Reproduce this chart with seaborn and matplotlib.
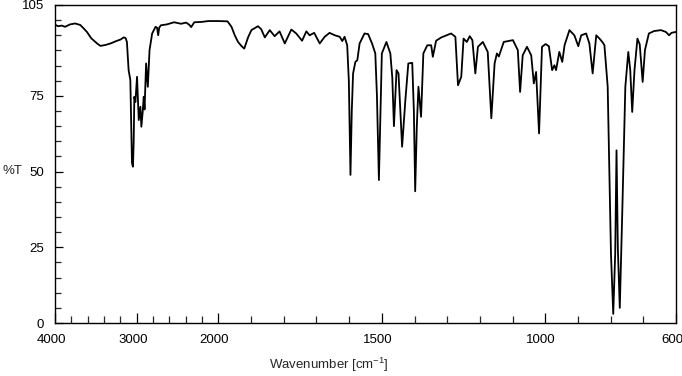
import numpy as np
import pandas as pd
import matplotlib
matplotlib.use("Agg")
import matplotlib.pyplot as plt
import matplotlib.transforms as mtransforms
import seaborn as sns

# IR spectrum
wavenumber = [
    4000, 3963, 3917, 3877, 3815, 3753, 3691, 3654, 3609, 3556, 3485, 3444,
    3383, 3321, 3259, 3198, 3160, 3136, 3120, 3099, 3078, 3058, 3046, 3037,
    3029, 3016, 2996, 2975, 2955, 2943, 2926, 2914, 2904, 2885, 2864, 2843,
    2811, 2769, 2751, 2737, 2725, 2704, 2630, 2543, 2457, 2395, 2358, 2333,
    2296, 2210, 2123, 2000, 1972, 1960, 1950, 1940, 1930, 1921, 1909, 1899,
    1879, 1869, 1858, 1843, 1828, 1813, 1797, 1777, 1762, 1744, 1731, 1721,
    1707, 1690, 1675, 1660, 1644, 1629, 1621, 1614, 1606, 1601, 1596, 1592,
    1588, 1581, 1575, 1568, 1553, 1542, 1530, 1520, 1515, 1509, 1504, 1500,
    1486, 1474, 1468, 1463, 1455, 1449, 1438, 1428, 1419, 1407, 1402, 1398,
    1393, 1388, 1380, 1373, 1361, 1349, 1344, 1334, 1318, 1288, 1275, 1267,
    1257, 1250, 1240, 1231, 1223, 1214, 1206, 1191, 1176, 1165, 1155, 1148,
    1142, 1127, 1099, 1084, 1077, 1069, 1056, 1043, 1035, 1028, 1019, 1010,
    999, 989, 979, 972, 967, 957, 948, 941, 926, 911, 899, 890,
    875, 865, 855, 844, 834, 824, 819, 809, 799, 792, 786, 782,
    778, 772, 765, 755, 746, 740, 734, 727, 718, 711, 702, 695,
    683, 667, 646, 631, 621, 614, 601,
]
transmittance = [
    98.5, 98.0, 98.2, 97.8, 98.6, 98.9, 98.4, 97.4, 96.1, 94.0, 92.3, 91.5,
    91.8, 92.3, 93.0, 93.6, 94.3, 94.1, 92.8, 83.5, 80.2, 52.8, 51.6, 60.0,
    74.7, 73.0, 81.3, 67.0, 71.4, 64.8, 70.0, 74.7, 70.5, 85.7, 78.0, 90.1,
    95.6, 97.8, 97.5, 95.0, 97.5, 98.3, 98.6, 99.3, 98.8, 99.2, 98.5, 97.7,
    99.3, 99.4, 99.7, 99.7, 99.6, 97.8, 95.0, 92.8, 91.5, 90.6, 94.4, 96.7,
    98.0, 97.0, 94.3, 96.7, 94.7, 96.3, 92.3, 96.9, 95.6, 93.2, 96.3, 95.0,
    95.8, 92.3, 94.5, 95.8, 95.0, 94.5, 93.1, 94.5, 91.7, 80.0, 48.9, 70.0,
    82.4, 86.2, 86.8, 92.3, 95.6, 95.4, 92.3, 89.0, 75.0, 47.2, 70.0, 89.0,
    92.8, 89.0, 81.0, 65.0, 83.5, 82.4, 58.2, 73.6, 85.7, 85.9, 70.0, 43.5,
    65.0, 78.0, 68.1, 89.0, 91.7, 91.7, 87.9, 93.2, 94.3, 95.6, 94.5, 78.5,
    81.3, 93.9, 92.8, 94.7, 93.4, 82.4, 91.2, 92.8, 89.5, 67.6, 85.7, 89.0,
    88.0, 92.8, 93.4, 90.1, 76.3, 88.4, 91.2, 88.4, 79.1, 82.9, 62.6, 91.2,
    92.1, 91.4, 83.5, 85.1, 83.5, 89.5, 86.2, 91.7, 96.7, 95.0, 91.4, 95.0,
    95.6, 92.3, 82.4, 95.0, 93.9, 92.6, 91.7, 78.0, 23.0, 3.0, 23.0, 57.0,
    25.0, 5.0, 34.0, 78.0, 89.5, 83.5, 69.7, 83.5, 93.9, 92.0, 79.6, 90.1,
    95.6, 96.4, 96.7, 96.1, 95.0, 95.8, 96.1,
]

major_x = [4000, 3000, 2000, 1500, 1000, 600]
minor_x = [3800, 3600, 3400, 3200, 2800, 2600, 2400, 2200,
           1900, 1800, 1700, 1600, 1400, 1300, 1200, 1100,
           900, 800, 700]
major_y = [0, 25, 50, 75, 105]
minor_y = [5, 10, 15, 20, 30, 35, 40, 45, 55, 60, 65, 70, 80, 85, 90, 95, 100]

df = pd.DataFrame({"wn": wavenumber, "T": transmittance})

sns.set_style("ticks")
plt.rcParams["font.family"] = ["Liberation Sans", "DejaVu Sans"]
plt.rcParams["mathtext.fontset"] = "custom"
plt.rcParams["mathtext.rm"] = "Liberation Sans"
plt.rcParams["mathtext.it"] = "Liberation Sans:italic"
plt.rcParams["mathtext.bf"] = "Liberation Sans:bold"


# above 2000 cm-1 the axis is compressed 4x
def fwd(x):
    x = np.asarray(x, dtype=float)
    return np.where(x <= 2000, x - 600, 1400 + (x - 2000) / 4.0)


def inv(u):
    u = np.asarray(u, dtype=float)
    return np.where(u <= 1400, u + 600, 2000 + (u - 1400) * 4.0)


fig = plt.figure(figsize=(6.82, 3.76), dpi=100)
ax = fig.add_axes([55 / 682, 53 / 376, 621 / 682, 318 / 376])

sns.lineplot(data=df, x="wn", y="T", color="black", linewidth=1.3,
             sort=False, estimator=None, ax=ax)

ax.set_xscale("function", functions=(fwd, inv))
ax.set_xlim(4000, 600)
ax.set_ylim(0, 105)

ax.set_xticks(major_x)
ax.set_xticklabels([str(v) for v in major_x])
ax.set_xticks(minor_x, minor=True)
ax.set_yticks(major_y)
ax.set_yticklabels([str(v) for v in major_y])
ax.set_yticks(minor_y, minor=True)

ax.tick_params(axis="x", which="major", direction="in", length=7.5, width=0.9,
               pad=8, labelsize=9.5, colors="black")
ax.tick_params(axis="x", which="minor", direction="in", length=5, width=0.9)
ax.tick_params(axis="y", which="major", direction="in", length=6, width=0.9,
               pad=8, labelsize=9.5, colors="black")
ax.tick_params(axis="y", which="minor", direction="in", length=4, width=0.9)

for sp in ax.spines.values():
    sp.set_visible(True)
    sp.set_linewidth(1.0)
    sp.set_color("black")

shift = mtransforms.ScaledTranslation(-4 / 100, 0, fig.dpi_scale_trans)
for lab in ax.get_xticklabels():
    lab.set_transform(lab.get_transform() + shift)

ax.set_xlabel("")
ax.set_ylabel("")
fig.text(328.5 / 682, 1 - 365 / 376, "Wavenumber [cm$^{-1}$]",
         ha="center", va="center", fontsize=9.5)
fig.text(12 / 682, 1 - 171 / 376, "%T", ha="center", va="center", fontsize=9.5)

fig.savefig("out.png", dpi=100)
